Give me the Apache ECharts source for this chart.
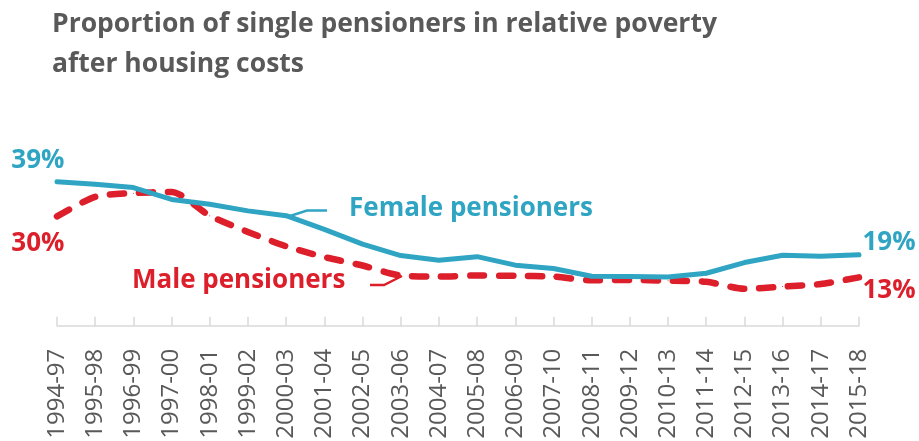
<!DOCTYPE html>
<html>
<head>
<meta charset="utf-8">
<title>Single pensioners in relative poverty</title>
<script src="https://cdn.jsdelivr.net/npm/echarts@6/dist/echarts.min.js"></script>
<style>
  html, body { margin: 0; padding: 0; background: #fff; }
  #chart { width: 919px; height: 441px; }
</style>
</head>
<body>
<div id="chart"></div>
<script>
// years on the x axis
const years = ['1994-97', '1995-98', '1996-99', '1997-00', '1998-01', '1999-02', '2000-03',
  '2001-04', '2002-05', '2003-06', '2004-07', '2005-08', '2006-09', '2007-10', '2008-11',
  '2009-12', '2010-13', '2011-14', '2012-15', '2013-16', '2014-17', '2015-18'];

// % in relative poverty after housing costs
const female = [39.0, 38.3, 37.4, 34.2, 32.9, 31.1, 29.8, 26.1, 22.1, 19.0, 17.7,
  18.7, 16.4, 15.5, 13.4, 13.3, 13.2, 14.2, 17.1, 19.1, 18.8, 19.2];
const male = [29.6, 34.9, 35.9, 36.2, 29.8, 25.4, 21.5, 18.6, 16.3, 13.6, 13.3,
  13.6, 13.5, 13.3, 12.3, 12.4, 12.2, 11.9, 10.0, 10.6, 11.3, 13.1];

const TEAL = '#2fa5c3';
const RED = '#dc1f2a';
const GREY = '#595959';
const FONT = '"Open Sans", sans-serif';

const chart = echarts.init(document.getElementById('chart'));

// only first and last point get a % label
function withEndLabels(values, color, firstLabel, lastLabel) {
  return values.map((v, i) => {
    if (i === 0) return { value: v, label: Object.assign({ show: true, color: color }, firstLabel) };
    if (i === values.length - 1) return { value: v, label: Object.assign({ show: true, color: color }, lastLabel) };
    return v;
  });
}

const labelText = {
  formatter: p => Math.round(p.value) + '%',
  fontFamily: FONT,
  fontWeight: 'bold',
  fontSize: 26
};

const option = {
  animation: false,
  title: {
    text: 'Proportion of single pensioners in relative poverty\nafter housing costs',
    left: 52,
    top: 4,
    padding: 0,
    textStyle: {
      color: GREY,
      fontFamily: FONT,
      fontWeight: 'bold',
      fontSize: 26.5,
      lineHeight: 40
    }
  },
  // labels run off the bottom edge like the original; don't let the grid shrink for them
  grid: { left: 57, right: 60, top: 178, bottom: 115.3, outerBoundsMode: 'none' },
  xAxis: {
    type: 'category',
    data: years,
    boundaryGap: false,
    axisLine: { lineStyle: { color: '#d9d9d9', width: 1.5 } },
    axisTick: { inside: true, length: 9, lineStyle: { color: '#d9d9d9', width: 1.5 } },
    axisLabel: {
      interval: 0,
      rotate: 90,
      margin: 23,
      color: GREY,
      fontFamily: FONT,
      fontSize: 24
    }
  },
  yAxis: {
    type: 'value',
    min: 0,
    max: 40,
    show: false,
    splitLine: { show: false }
  },
  series: [
    {
      name: 'Female pensioners',
      type: 'line',
      symbol: 'circle',
      symbolSize: 1,
      showSymbol: true,
      showAllSymbol: true,
      data: withEndLabels(female, TEAL,
        Object.assign({ position: 'left', offset: [13, -21] }, labelText),
        Object.assign({ position: 'right', offset: [-2, -12] }, labelText)),
      itemStyle: { color: TEAL },
      lineStyle: { color: TEAL, width: 5, cap: 'round', join: 'round' },
      z: 3
    },
    {
      name: 'Male pensioners',
      type: 'line',
      symbol: 'circle',
      symbolSize: 1,
      showSymbol: true,
      showAllSymbol: true,
      smooth: 0.25,
      data: withEndLabels(male, RED,
        Object.assign({ position: 'left', offset: [13, 27] }, labelText),
        Object.assign({ position: 'right', offset: [-2, 13] }, labelText)),
      itemStyle: { color: RED },
      lineStyle: { color: RED, width: 6.5, type: [14, 15], cap: 'round', join: 'round' },
      z: 2
    }
  ],
  graphic: [
    // series name callouts
    {
      type: 'polyline',
      shape: { points: [[290, 216], [307, 210.5], [327, 210.5]] },
      style: { stroke: TEAL, lineWidth: 2.5, fill: null }
    },
    {
      type: 'text',
      left: 349,
      top: 196,
      style: { text: 'Female pensioners', fill: TEAL, font: 'bold 26px ' + FONT }
    },
    {
      type: 'polyline',
      shape: { points: [[370, 285], [384, 285], [402, 276]] },
      style: { stroke: RED, lineWidth: 2.5, fill: null }
    },
    {
      type: 'text',
      left: 132,
      top: 268,
      style: { text: 'Male pensioners', fill: RED, font: 'bold 26px ' + FONT }
    }
  ]
};

chart.setOption(option);
window.addEventListener('resize', chart.resize);
</script>
</body>
</html>
